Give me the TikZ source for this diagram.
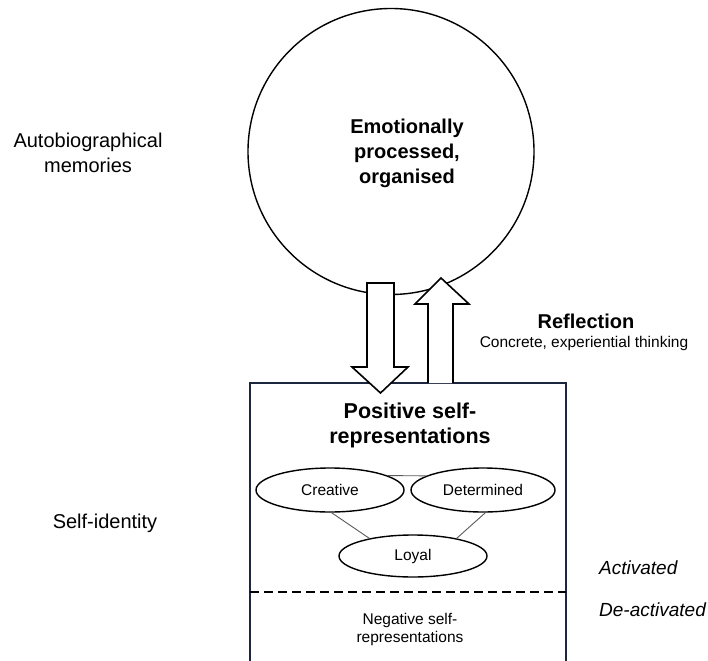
\documentclass[tikz,border=0pt]{standalone}
\usepackage{fontspec}
\setmainfont{Liberation Sans}
\usetikzlibrary{shapes.geometric}
\definecolor{boxnavy}{RGB}{28,38,62}
\definecolor{linkgray}{RGB}{90,90,90}
\tikzset{
  lbl/.style={font=\fontsize{20}{25}\selectfont, align=center, inner sep=0pt},
  boldlbl/.style={font=\fontsize{20}{25}\selectfont\bfseries, align=center, inner sep=0pt},
  smalllbl/.style={font=\fontsize{15.5}{18}\selectfont, align=center, inner sep=0pt},
  itallbl/.style={font=\fontsize{19}{23}\selectfont\itshape, anchor=west, inner sep=0pt},
  trait/.style={ellipse, draw=black, line width=1.4pt, fill=white, inner sep=0pt,
     minimum width=148pt, minimum height=44pt, font=\fontsize{15.5}{18}\selectfont},
  link/.style={draw=linkgray, line width=0.9pt},
  blockarrow/.style={draw=black, line width=1.6pt, fill=white, line join=miter},
}
\begin{document}
\begin{tikzpicture}[x=1pt,y=-1pt]
\useasboundingbox (0,0) rectangle (708,660);
% circle
\node[circle, draw=black, line width=1.4pt, minimum size=286pt, inner sep=0pt] (mem) at (391,151.5) {};
\node[boldlbl] (memtxt) at (407,153) {Emotionally\\processed,\\organised};
% box
\draw[boxnavy, line width=1.8pt] (250,662) -- (250,383) -- (566,383) -- (566,662);
\draw[black, line width=1.4pt, dash pattern=on 9pt off 5pt] (250,592) -- (566,592);
% arrows
\draw[blockarrow] (367,283) -- (394,283) -- (394,367) -- (408,367) -- (380.5,393) -- (352,367) -- (367,367) -- cycle;
\draw[blockarrow] (428,383) -- (428,304) -- (415,304) -- (441,278) -- (469,304) -- (453,304) -- (453,383);
% side labels
\node[lbl] (auto) at (88,153) {Autobiographical\\memories};
\node[lbl] (selfid) at (105,523) {Self-identity};
\node[boldlbl] (refl) at (586,321) {Reflection};
\node[smalllbl] (conc) at (584,343) {Concrete, experiential thinking};
\node[itallbl] (act) at (599,568) {Activated};
\node[itallbl] (deact) at (599,610) {De-activated};
% box contents
\node[boldlbl, font=\fontsize{21.5}{25}\selectfont\bfseries] (pos) at (410,425) {Positive self-\\representations};
\node[trait] (cre) at (330,490) {Creative};
\node[trait, minimum width=144pt] (det) at (483,490) {Determined};
\node[trait, minimum height=42pt] (loy) at (413,556) {Loyal};
\draw[link] (cre.14) -- (det.166);
\draw[link] (cre.-86) -- (loy.158);
\draw[link] (det.-84) -- (loy.22);
\node[smalllbl] (neg) at (410,629) {Negative self-\\representations};
\end{tikzpicture}
\end{document}
